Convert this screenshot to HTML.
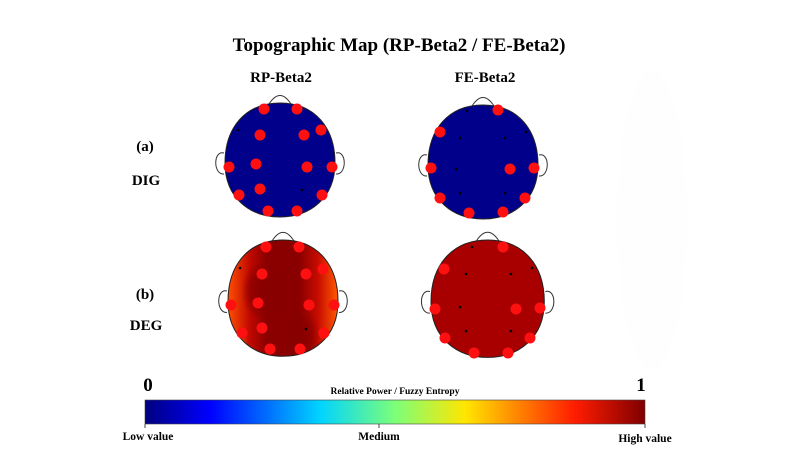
<!DOCTYPE html>
<html><head><meta charset="utf-8"><style>
body{margin:0;background:#fff;}
svg{display:block;font-family:"Liberation Serif",serif;font-weight:bold;}
</style></head><body>
<svg width="798" height="449" viewBox="0 0 798 449" xmlns="http://www.w3.org/2000/svg">
<defs>
<path id="hd" d="M55,0 C90,0 110,25 110,60 C110,95 85,114 55,114 C25,114 0,95 0,60 C0,25 20,0 55,0Z"/>
<clipPath id="hc"><use href="#hd"/></clipPath>
<g id="deco" fill="none" stroke="#333" stroke-width="1">
<path d="M44,1 Q55,-16 66,1"/>
<path d="M-1,50 C-12,47 -12,72 -1,71"/>
<path d="M111,50 C122,47 122,72 111,71"/>
</g>
<linearGradient id="jet" x1="0" x2="1">
<stop offset="0" stop-color="#00007f"/><stop offset="0.13" stop-color="#0000ff"/>
<stop offset="0.35" stop-color="#00d4ff"/><stop offset="0.5" stop-color="#7cff79"/>
<stop offset="0.64" stop-color="#ffe600"/><stop offset="0.86" stop-color="#ff1c00"/>
<stop offset="1" stop-color="#7f0000"/></linearGradient>
<linearGradient id="hz" x1="0" x2="1">
<stop offset="0" stop-color="#ff5000"/><stop offset="0.2" stop-color="#c00800"/>
<stop offset="0.35" stop-color="#8a0000"/><stop offset="0.65" stop-color="#8a0000"/>
<stop offset="0.82" stop-color="#c80c00"/><stop offset="1" stop-color="#ff5a00"/></linearGradient>
<radialGradient id="yl" cx="0.5" cy="0.5" r="0.5"><stop offset="0" stop-color="#ffff00"/><stop offset="0.5" stop-color="#ffa000" stop-opacity="0.7"/><stop offset="1" stop-color="#ff8000" stop-opacity="0"/></radialGradient>
<radialGradient id="dk" cx="0.5" cy="0.5" r="0.5"><stop offset="0" stop-color="#880000"/><stop offset="0.6" stop-color="#880000" stop-opacity="0.7"/><stop offset="1" stop-color="#880000" stop-opacity="0"/></radialGradient>
</defs>
<text x="399" y="51" text-anchor="middle" font-size="19">Topographic Map (RP-Beta2 / FE-Beta2)</text>
<text x="281" y="82" text-anchor="middle" font-size="15">RP-Beta2</text>
<text x="485" y="82" text-anchor="middle" font-size="15">FE-Beta2</text>
<text x="145" y="151" text-anchor="middle" font-size="15">(a)</text>
<text x="146" y="185" text-anchor="middle" font-size="15">DIG</text>
<text x="145" y="299" text-anchor="middle" font-size="15">(b)</text>
<text x="146" y="330" text-anchor="middle" font-size="15">DEG</text>
<ellipse cx="652" cy="220" rx="35" ry="150" fill="#fefefe"/>

<g transform="translate(225,103)"><use href="#deco"/><use href="#hd" fill="#00008a" stroke="#222"/></g>
<g transform="translate(428,105)"><use href="#deco"/><use href="#hd" fill="#00008a" stroke="#222"/></g>
<g transform="translate(228,240) scale(1,1.02)"><use href="#deco"/>
<g clip-path="url(#hc)"><rect x="0" y="0" width="110" height="120" fill="url(#hz)"/>
<ellipse cx="35" cy="50" rx="22" ry="30" fill="url(#dk)"/>
<ellipse cx="72" cy="95" rx="20" ry="30" fill="url(#dk)"/>
<ellipse cx="0" cy="112" rx="22" ry="28" fill="url(#yl)"/>
<ellipse cx="114" cy="105" rx="16" ry="28" fill="url(#yl)"/></g>
<use href="#hd" fill="none" stroke="#222"/></g>
<g transform="translate(431,240) scale(1.03,1.03)"><use href="#deco"/><use href="#hd" fill="#a80000" stroke="#222"/></g>

<g fill="#ff1010">
<circle cx="264" cy="109" r="5.5"/><circle cx="297" cy="109" r="5.5"/><circle cx="260" cy="135" r="5.5"/><circle cx="304" cy="135" r="5.5"/><circle cx="321" cy="130" r="5.5"/><circle cx="229" cy="167" r="5.5"/><circle cx="256" cy="164" r="5.5"/><circle cx="307" cy="167" r="5.5"/><circle cx="332" cy="167" r="5.5"/><circle cx="239" cy="195" r="5.5"/><circle cx="260" cy="189" r="5.5"/><circle cx="322" cy="195" r="5.5"/><circle cx="268" cy="211" r="5.5"/><circle cx="297" cy="211" r="5.5"/>
<circle cx="498" cy="110" r="5.5"/><circle cx="440" cy="132" r="5.5"/><circle cx="431" cy="168" r="5.5"/><circle cx="510" cy="169" r="5.5"/><circle cx="534" cy="168" r="5.5"/><circle cx="440" cy="198" r="5.5"/><circle cx="525" cy="198" r="5.5"/><circle cx="469" cy="213" r="5.5"/><circle cx="503" cy="212" r="5.5"/>
<circle cx="266" cy="247" r="5.5"/><circle cx="299" cy="247" r="5.5"/><circle cx="262" cy="274" r="5.5"/><circle cx="306" cy="274" r="5.5"/><circle cx="323" cy="269" r="5.5"/><circle cx="231" cy="305" r="5.5"/><circle cx="258" cy="303" r="5.5"/><circle cx="309" cy="305" r="5.5"/><circle cx="334" cy="305" r="5.5"/><circle cx="242" cy="333" r="5.5"/><circle cx="262" cy="328" r="5.5"/><circle cx="324" cy="333" r="5.5"/><circle cx="270" cy="349" r="5.5"/><circle cx="300" cy="349" r="5.5"/>
<circle cx="503" cy="247" r="5.5"/><circle cx="444" cy="269" r="5.5"/><circle cx="435" cy="309" r="5.5"/><circle cx="516" cy="309" r="5.5"/><circle cx="540" cy="308" r="5.5"/><circle cx="445" cy="338" r="5.5"/><circle cx="530" cy="338" r="5.5"/><circle cx="474" cy="353" r="5.5"/><circle cx="508" cy="353" r="5.5"/>
</g>
<g fill="#000">
<circle cx="238" cy="130" r="1.3"/><circle cx="302" cy="190" r="1.3"/>
<circle cx="467" cy="111" r="1.3"/><circle cx="460" cy="138" r="1.3"/><circle cx="505" cy="138" r="1.3"/><circle cx="526" cy="132" r="1.3"/><circle cx="456" cy="169" r="1.3"/><circle cx="460" cy="193" r="1.3"/><circle cx="505" cy="193" r="1.3"/>
<circle cx="240" cy="268" r="1.3"/><circle cx="306" cy="329" r="1.3"/>
<circle cx="472" cy="247" r="1.3"/><circle cx="466" cy="274" r="1.3"/><circle cx="511" cy="274" r="1.3"/><circle cx="532" cy="268" r="1.3"/><circle cx="460" cy="307" r="1.3"/><circle cx="466" cy="331" r="1.3"/><circle cx="511" cy="331" r="1.3"/>
</g>

<text x="148" y="391" text-anchor="middle" font-size="19">0</text>
<text x="641" y="391" text-anchor="middle" font-size="19">1</text>
<text x="395" y="394" text-anchor="middle" font-size="9.5">Relative Power / Fuzzy Entropy</text>
<rect x="145" y="400" width="500" height="24" fill="url(#jet)" stroke="#444" stroke-width="0.6"/>
<line x1="145" y1="424" x2="145" y2="428" stroke="#444"/><line x1="379" y1="424" x2="379" y2="428" stroke="#444"/><line x1="645" y1="424" x2="645" y2="428" stroke="#444"/>
<text x="148" y="440" text-anchor="middle" font-size="11.5">Low value</text>
<text x="379" y="440" text-anchor="middle" font-size="11.5">Medium</text>
<text x="645" y="442" text-anchor="middle" font-size="11.5">High value</text>
</svg>
</body></html>
